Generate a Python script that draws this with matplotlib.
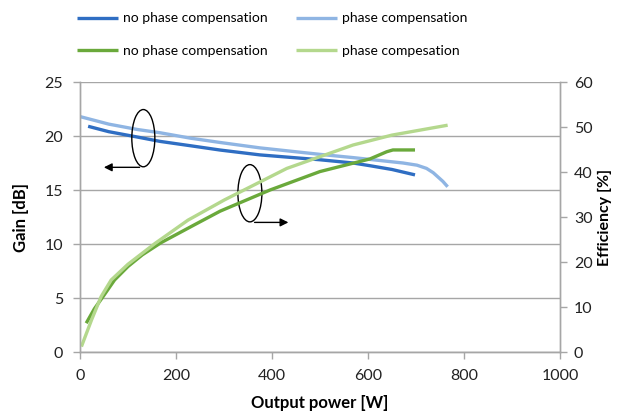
import matplotlib
matplotlib.use("Agg")
import matplotlib.pyplot as plt
from matplotlib.patches import Ellipse

plt.rcParams['font.family'] = ['Lato', 'DejaVu Sans']

# Gain, no phase compensation
gain_np_x = [17, 60, 120, 167, 230, 292, 375, 500, 569, 604, 650, 698]
gain_np_y = [20.9, 20.4, 19.9, 19.5, 19.1, 18.7, 18.25, 17.8, 17.5, 17.25, 16.9, 16.4]
# Gain, phase compensation
gain_pc_x = [0, 60, 120, 167, 230, 292, 375, 500, 569, 673, 702, 722, 736, 746, 756, 766]
gain_pc_y = [21.8, 21.1, 20.6, 20.3, 19.8, 19.4, 18.9, 18.3, 18.0, 17.5, 17.3, 17.0, 16.6, 16.2, 15.8, 15.3]
# Efficiency, no phase compensation
eff_np_x = [13, 30, 48, 72, 100, 130, 169, 239, 292, 396, 500, 604, 639, 652, 698]
eff_np_y = [6.4, 9.6, 12.3, 16.0, 19.0, 21.6, 24.3, 28.3, 31.3, 36.0, 40.1, 42.9, 44.5, 44.9, 44.9]
# Efficiency, phase compensation
eff_pc_x = [3, 24, 44, 65, 100, 156, 225, 301, 431, 569, 650, 708, 766]
eff_pc_y = [1.2, 7.1, 12.3, 16.0, 19.5, 24.1, 29.3, 33.8, 40.8, 46.0, 48.2, 49.3, 50.4]

x_ticks = [0, 200, 400, 600, 800, 1000]
gain_ticks = [0, 5, 10, 15, 20, 25]
eff_ticks = [0, 10, 20, 30, 40, 50, 60]

c_dblue = '#2f6ec3'
c_lblue = '#8fb5e3'
c_dgreen = '#6aa93b'
c_lgreen = '#b4d88d'
grid_c = '#a6a6a6'

fig = plt.figure(figsize=(6.18, 4.15), dpi=100)
ax = fig.add_axes([0.1294, 0.1518, 0.7767, 0.6506])
ax2 = ax.twinx()

lw = 2.4
l1, = ax.plot(gain_np_x, gain_np_y, color=c_dblue, lw=lw, solid_capstyle='butt')
l2, = ax.plot(gain_pc_x, gain_pc_y, color=c_lblue, lw=lw, solid_capstyle='butt')
l3, = ax2.plot(eff_np_x, eff_np_y, color=c_dgreen, lw=lw, solid_capstyle='butt')
l4, = ax2.plot(eff_pc_x, eff_pc_y, color=c_lgreen, lw=lw, solid_capstyle='butt')

ax.set_xlim(0, 1000)
ax.set_ylim(0, 25)
ax2.set_ylim(0, 60)
ax.set_xticks(x_ticks)
ax.set_yticks(gain_ticks)
ax2.set_yticks(eff_ticks)
ax.grid(axis='y', color=grid_c, lw=1.0)
ax.set_axisbelow(True)

for a in (ax, ax2):
    for s in a.spines.values():
        s.set_color(grid_c)
        s.set_linewidth(1.0)
    a.spines['top'].set_visible(False)
    a.tick_params(colors='#222222', labelsize=11.5, length=5, width=1.0, color=grid_c)
ax.tick_params(axis='y', pad=7)
ax.tick_params(axis='x', pad=7)
ax2.tick_params(axis='y', pad=5)

ax.set_xlabel('Output power [W]', fontsize=12, fontweight='bold', labelpad=9)
ax.set_ylabel('Gain [dB]', fontsize=12, fontweight='bold', labelpad=11)
ax2.set_ylabel('Efficiency [%]', fontsize=11.5, fontweight='bold', labelpad=4)

# annotation ellipses and arrows
ax.add_patch(Ellipse((132, 19.8), 48, 5.3, fill=False, ec='black', lw=1.0, zorder=5))
ax.annotate('', xy=(44, 17.1), xytext=(130, 17.1),
            arrowprops=dict(arrowstyle='-|>', color='black', lw=1.0, mutation_scale=12), zorder=5)
ax.add_patch(Ellipse((354, 14.7), 50, 5.3, fill=False, ec='black', lw=1.0, zorder=5))
ax.annotate('', xy=(440, 12.0), xytext=(358, 12.0),
            arrowprops=dict(arrowstyle='-|>', color='black', lw=1.0, mutation_scale=12), zorder=5)

fig.legend([l1, l3, l2, l4],
           ['no phase compensation', 'no phase compensation',
            'phase compensation', 'phase compesation'],
           ncol=2, loc='upper left', bbox_to_anchor=(0.104, 1.0), frameon=False,
           fontsize=10, handlelength=3.0, handletextpad=0.35, columnspacing=2.0,
           labelspacing=1.45)

fig.savefig('out.png', dpi=100)
